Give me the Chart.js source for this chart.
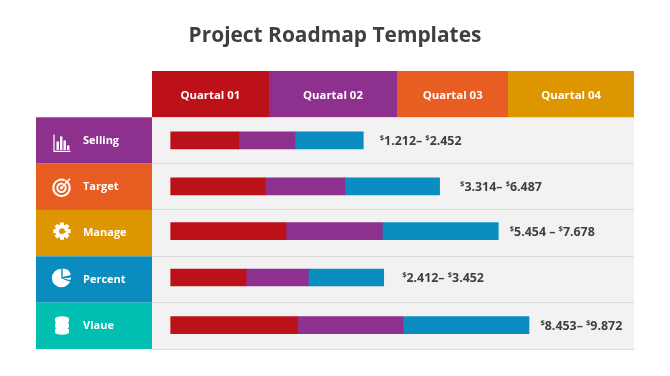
<!DOCTYPE html>
<html>
<head>
<meta charset="utf-8">
<title>Project Roadmap Templates</title>
<script src="https://cdn.jsdelivr.net/npm/chart.js@4/dist/chart.umd.min.js"></script>
<style>
  html, body { margin:0; padding:0; background:#fff; }
  canvas { display:block; }
</style>
</head>
<body>
<canvas id="roadmap" width="670" height="376"></canvas>
<script>
const categories = ['Selling', 'Target', 'Manage', 'Percent', 'Vlaue'];
const firstSeg   = [68, 94.5, 115.3, 75.3, 126.6];
const secondSeg  = [56.3, 79.7, 96.3, 62.3, 105.7];
const thirdSeg   = [68.3, 94.7, 116, 75.4, 126];
const rangeLow   = ['1.212', '3.314', '5.454', '2.412', '8.453'];
const rangeHigh  = ['2.452', '6.487', '7.678', '3.452', '9.872'];
const rangeDash  = ['– ', '– ', ' – ', '– ', '– '];
const quarters   = ['Quartal 01', 'Quartal 02', 'Quartal 03', 'Quartal 04'];
const quarterEnd = [-18.7, 98, 226.5, 337.5, 463.3];

const C = { red:'#bc1119', purple:'#8e308e', orange:'#e85d22', amber:'#dd9600', blue:'#0b8cc0', teal:'#00bfb0', row:'#f2f2f2', line:'#dcdcdc', text:'#3f3f3f' };
const FONT = '"Open Sans", sans-serif';
const headColors = [C.red, C.purple, C.orange, C.amber];
const rowColors  = [C.purple, C.orange, C.amber, C.blue, C.teal];
const labelGaps  = [16.5, 20.5, 11.5, 18.5, 11.5];
// the rows in the reference are not quite centred, small vertical corrections
const barNudge   = [0, -0.5, -2, -2, -0.7];
const iconNudge  = [3, 0, -2, -1.5, -0.7];

// ── Icons ─────────────────────────────────────────────────────
function iconBars(c, x, y) {
  c.lineWidth = 1.2;
  c.beginPath(); c.moveTo(x-8, y-9); c.lineTo(x-8, y+8); c.lineTo(x+8.5, y+8); c.stroke();
  [[-5.5,-2],[-2,-7],[1.5,-3],[5,2]].forEach(([dx, top]) => c.fillRect(x+dx, y+top, 2.4, 6.5-top));
}
function iconTarget(c, x, y) {
  c.lineWidth = 2;
  [8.2, 4.2].forEach(r => { c.beginPath(); c.arc(x-0.5, y+1, r, -1.1, 5.2-0.1); c.stroke(); });
  c.beginPath(); c.arc(x-0.5, y+1, 1.6, 0, 7); c.fill();
  c.lineWidth = 1.3;
  c.beginPath(); c.moveTo(x-0.5, y+1); c.lineTo(x+8, y-8); c.stroke();
}
function iconGear(c, x, y) {
  c.save(); c.translate(x, y);
  for (let i = 0; i < 8; i++) { c.rotate(Math.PI/4); c.fillRect(-2, -8.6, 4, 4); }
  c.restore();
  c.beginPath(); c.arc(x, y, 6.6, 0, 7); c.arc(x, y, 2.9, 0, 7, true); c.fill('evenodd');
}
function iconPie(c, x, y) {
  c.beginPath(); c.moveTo(x-0.8, y-9.5); c.arc(x-0.8, y, 9.3, -Math.PI/2, Math.PI*0.15, true); c.lineTo(x-0.8, y); c.closePath(); c.fill();
  c.beginPath(); c.moveTo(x+0.6, y-1); c.lineTo(x+0.6, y-9.5); c.arc(x+0.6, y-1, 8.5, -Math.PI/2, -0.25); c.closePath(); c.fill();
  c.beginPath(); c.moveTo(x+1, y+0.5); c.lineTo(x+9, y-0.5); c.lineTo(x+8.5, y+2); c.closePath(); c.fill();
  c.beginPath(); c.moveTo(x+0.5, y+1.5); c.lineTo(x+8, y+3.5); c.lineTo(x+6.5, y+6); c.closePath(); c.fill();
}
function iconStack(c, x, y) {
  [-6, -0.5, 5].forEach(dy => {
    c.beginPath(); c.ellipse(x, y+dy+2, 7, 2.6, 0, 0, 7); c.fill();
    c.fillRect(x-7, y+dy-0.5, 14, 2.5);
    c.beginPath(); c.ellipse(x, y+dy-0.5, 7, 2.4, 0, 0, 7); c.fill();
  });
}
const icons = [iconBars, iconTarget, iconGear, iconPie, iconStack];

// ── Plugin: cells behind the chart, icons and range labels ────
const roadmapCells = {
  id:'roadmapCells',
  afterDatasetsUpdate(chart) {
    chart.data.datasets.forEach((_, d) => {
      chart.getDatasetMeta(d).data.forEach((bar, i) => { bar.y += barNudge[i]; });
    });
  },
  beforeDraw(chart) {
    const c = chart.ctx, a = chart.chartArea, xs = chart.scales.x, ys = chart.scales.y;
    c.save();
    c.fillStyle = C.row;
    c.fillRect(a.left, a.top, a.right-a.left, a.bottom-a.top);
    headColors.forEach((col, i) => {
      const x0 = Math.round(xs.getPixelForValue(quarterEnd[i])), x1 = Math.round(xs.getPixelForValue(quarterEnd[i+1]));
      c.fillStyle = col;
      c.fillRect(x0, xs.top, x1-x0, xs.bottom-xs.top);
    });
    const h = (a.bottom-a.top)/categories.length;
    rowColors.forEach((col, i) => {
      c.fillStyle = col;
      c.fillRect(36, ys.getPixelForValue(i)-h/2, a.left-36, h);
    });
    c.restore();
  },
  afterDraw(chart) {
    const c = chart.ctx, ys = chart.scales.y, meta = chart.getDatasetMeta(2);
    c.save();
    c.fillStyle = '#fff'; c.strokeStyle = '#fff';
    icons.forEach((draw, i) => draw(c, 62, ys.getPixelForValue(i)+iconNudge[i]));
    c.fillStyle = C.text;
    c.textBaseline = 'alphabetic';
    categories.forEach((_, i) => {
      let x = meta.data[i].x + labelGaps[i];
      const y = meta.data[i].y + 4.5;
      const big = t => { c.font = '700 12.4px '+FONT; c.fillText(t, x, y); x += c.measureText(t).width; };
      const sup = () => { c.font = '700 7.5px '+FONT; c.fillText('$', x, y-5); x += c.measureText('$').width; };
      sup(); big(rangeLow[i]); big(rangeDash[i]); sup(); big(rangeHigh[i]);
    });
    c.restore();
  }
};

const seg = (label, data, color) => ({ label, data, backgroundColor:color, barThickness:17, borderWidth:0 });

new Chart(document.getElementById('roadmap'), {
  type:'bar',
  data:{ labels:categories, datasets:[
    seg('Quartal 01', firstSeg, C.red),
    seg('Quartal 02', secondSeg, C.purple),
    seg('Quartal 03', thirdSeg, C.blue),
  ]},
  plugins:[roadmapCells],
  options:{
    indexAxis:'y', responsive:false, animation:false, devicePixelRatio:1,
    layout:{ padding:{ left:36, right:36, bottom:27, top:0 } },
    plugins:{
      legend:{ display:false }, tooltip:{ enabled:false },
      title:{ display:true, text:'Project Roadmap Templates', color:C.text,
              font:{ family:FONT, size:20.9, weight:'700', lineHeight:1.2 }, padding:{ top:24, bottom:21.9 } },
    },
    scales:{
      x:{ position:'top', stacked:true, min:quarterEnd[0], max:quarterEnd[4],
          border:{ display:false }, grid:{ display:false, drawTicks:false },
          afterBuildTicks:s => { s.ticks = quarters.map((_, i) => ({ value:(quarterEnd[i]+quarterEnd[i+1])/2 })); },
          afterFit:s => { s.height = 46.3; },
          ticks:{ color:'#fff', font:{ family:FONT, size:11.4, weight:'700' }, padding:15, autoSkip:false, maxRotation:0,
                  callback:(v, i) => quarters[i] } },
      y:{ stacked:true, offset:true,
          border:{ display:false }, grid:{ color:C.line, offset:true, drawTicks:false },
          afterFit:s => { s.width = 116; },
          ticks:{ color:'#fff', mirror:true, crossAlign:'near', padding:-69, font:{ family:FONT, size:11, weight:'700' } } },
    },
  },
});
</script>
</body>
</html>
